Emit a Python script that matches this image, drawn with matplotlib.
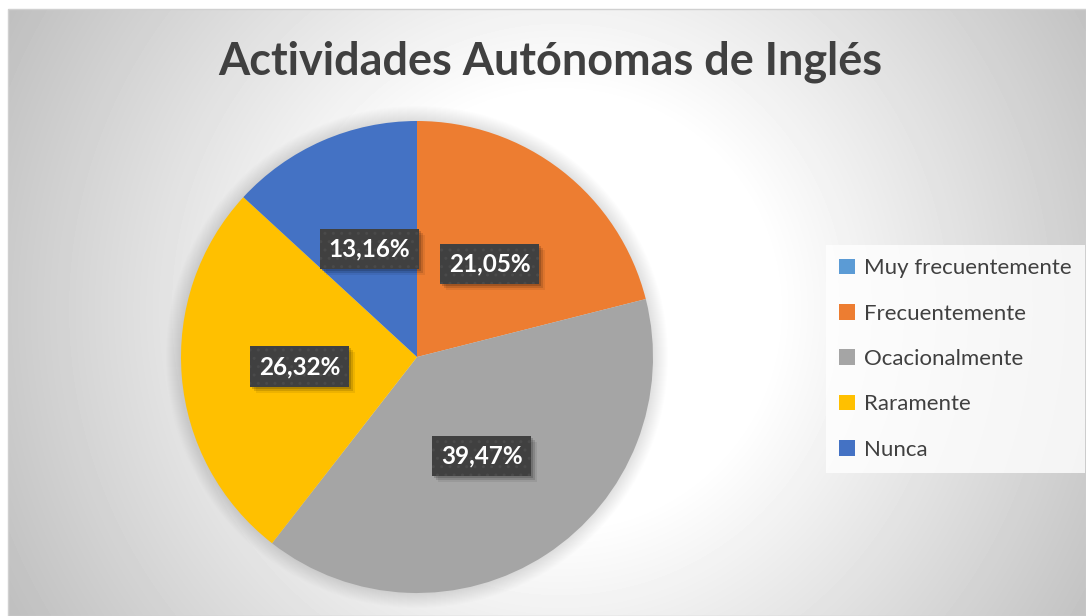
import numpy as np
import matplotlib
matplotlib.use('Agg')
import matplotlib.pyplot as plt
from matplotlib.patches import Circle, Rectangle

plt.rcParams['font.family'] = ['Lato', 'DejaVu Sans']
plt.rcParams['hatch.linewidth'] = 1.0

# datos (38 respuestas)
categorias = ['Muy frecuentemente', 'Frecuentemente', 'Ocacionalmente', 'Raramente', 'Nunca']
respuestas = [0, 8, 15, 10, 5]
colores = ['#5B9BD5', '#ED7D31', '#A5A5A5', '#FFC000', '#4472C4']
titulo = 'Actividades Autónomas de Inglés'

W, H = 1086, 616
fig = plt.figure(figsize=(W / 100, H / 100), dpi=100)
ax = fig.add_axes([0, 0, 1, 1])

# fondo con degradado radial (blanco al centro, gris en los bordes)
xx, yy = np.meshgrid(np.arange(8, W), np.arange(0, H - 9))
d = np.hypot(xx - 560, yy - 300)
v = np.clip(255 - 0.155 * np.clip(d - 215, 0, None), 192, 255) / 255.0
ax.imshow(v, cmap='gray', vmin=0, vmax=1, extent=(8, W, 0, H - 9), origin='upper', zorder=0,
          interpolation='bilinear')
ax.add_patch(Rectangle((8, 0), W - 8, H - 9, fill=False, edgecolor='#d0d0d0', lw=1, zorder=0.5))

cx, cy, R = 417, H - 357, 236

# sombra suave del pastel
for k in range(1, 16):
    ax.add_patch(Circle((cx, cy), R + k, color='black', alpha=0.009, lw=0, zorder=1))


def fmt(p):
    if p <= 0:
        return ''
    return f'{p:.2f}'.replace('.', ',') + '%'


wedges, texts, autotexts = ax.pie(respuestas, colors=colores, startangle=90, counterclock=False,
                                  center=(cx, cy), radius=R, autopct=fmt, pctdistance=0.5,
                                  wedgeprops=dict(linewidth=0, zorder=2),
                                  textprops=dict(color='white', fontsize=17.5, fontweight='bold'))
etiquetas = [t for t in autotexts if t.get_text()]
for t in etiquetas:
    t.set_zorder(6)
    t.set_bbox(dict(boxstyle='square,pad=0.36', facecolor='#404040', edgecolor='#4a4a4a',
                    hatch='..', linewidth=0))

ax.text(550, H - 62, titulo, ha='center', va='center', fontsize=32.4, fontweight='bold',
        color='#404040', zorder=5)

leg = ax.legend(wedges, categorias, loc='upper left', bbox_to_anchor=(826 / W, 1 - 245 / H),
                borderaxespad=0, fontsize=16, frameon=True, fancybox=False, borderpad=0.6,
                labelspacing=1.14, handlelength=0.7, handleheight=0.7, handletextpad=0.4)
leg.get_frame().set_facecolor((1, 1, 1, 0.22))
leg.get_frame().set_linewidth(0)
for t in leg.get_texts():
    t.set_color('#404040')

ax.set_xlim(0, W)
ax.set_ylim(0, H)
ax.set_aspect('equal')
ax.axis('off')

# sombra de las etiquetas (rectangulos desplazados bajo cada caja)
fig.canvas.draw()
inv = ax.transData.inverted()
for t in etiquetas:
    bb = t.get_bbox_patch().get_window_extent()
    (x0, y0), (x1, y1) = inv.transform([[bb.x0, bb.y0], [bb.x1, bb.y1]])
    for off, a in [(2, 0.16), (4, 0.12), (6, 0.07)]:
        ax.add_patch(Rectangle((x0 + off, y0 - off), x1 - x0, y1 - y0, facecolor='black',
                               alpha=a, linewidth=0, zorder=5))

fig.savefig('out.png', dpi=100, facecolor='white')
